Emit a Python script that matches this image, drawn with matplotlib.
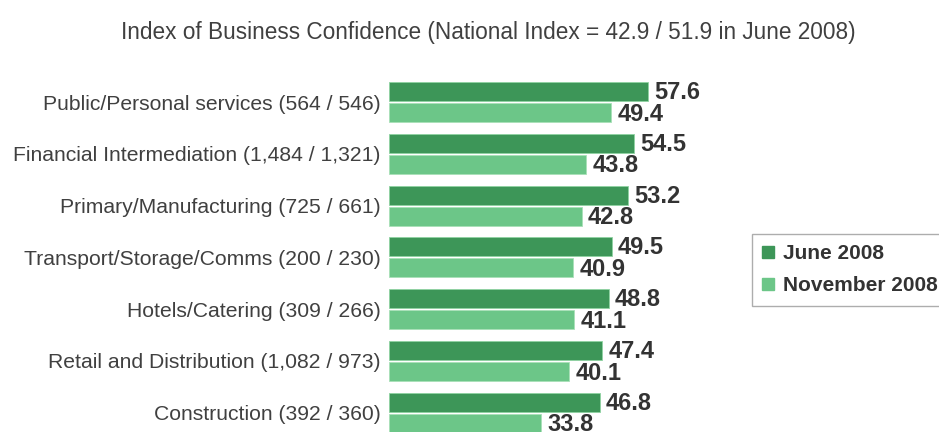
import matplotlib
matplotlib.use("Agg")
import matplotlib.pyplot as plt
from matplotlib.patches import Patch

plt.rcParams['font.family'] = ['Liberation Sans', 'DejaVu Sans']

categories = [
    "Public/Personal services (564 / 546)",
    "Financial Intermediation (1,484 / 1,321)",
    "Primary/Manufacturing (725 / 661)",
    "Transport/Storage/Comms (200 / 230)",
    "Hotels/Catering (309 / 266)",
    "Retail and Distribution (1,082 / 973)",
    "Construction (392 / 360)",
]
june_2008 = [57.6, 54.5, 53.2, 49.5, 48.8, 47.4, 46.8]
nov_2008 = [49.4, 43.8, 42.8, 40.9, 41.1, 40.1, 33.8]
series_names = ["June 2008", "November 2008"]
title = "Index of Business Confidence (National Index = 42.9 / 51.9 in June 2008)"

W, H = 939, 432
fig = plt.figure(figsize=(W / 100, H / 100), dpi=100)

# axes in pixel coordinates
ax_left, ax_right = 389, 389 + 270
ax_top, ax_bottom = 50, 432
ax = fig.add_axes([ax_left / W, 1 - ax_bottom / H, (ax_right - ax_left) / W, (ax_bottom - ax_top) / H])
pitch = 51.8
first_center = 102
ax.set_xlim(0, 60)
ax.set_ylim((ax_bottom - first_center) / pitch, -(first_center - ax_top) / pitch)

dark = "#3d9658"
light = "#6cc688"
txt = "#333333"
bh = 19 / pitch
off = 10.5 / pitch
ys = list(range(len(categories)))
ax.barh([y - off for y in ys], june_2008, height=bh, color=dark, edgecolor="#8fd3a2", linewidth=0.6)
ax.barh([y + off for y in ys], nov_2008, height=bh, color=light, edgecolor="#a8e0b8", linewidth=0.6)

for y, v in zip(ys, june_2008):
    ax.text(v + 1.4, y - off + 0.02, f"{v:.1f}", ha="left", va="center", fontsize=17,
            fontweight="bold", color=txt, clip_on=False)
for y, v in zip(ys, nov_2008):
    ax.text(v + 1.4, y + off + 0.03, f"{v:.1f}", ha="left", va="center", fontsize=17,
            fontweight="bold", color=txt, clip_on=False)

ax.set_yticks(ys)
ax.set_yticklabels(categories, fontsize=15.2, color="#404040")
ax.tick_params(axis="y", length=0, pad=6)
ax.set_xticks([])
for s in ax.spines.values():
    s.set_visible(False)

fig.text(488 / W, 1 - 32 / H, title, ha="center", va="center", fontsize=16.3, color="#404040")

handles = [Patch(facecolor=dark, edgecolor=dark), Patch(facecolor=light, edgecolor=light)]
leg = fig.legend(handles, series_names, loc="upper left",
                 bbox_to_anchor=(752 / W, 1 - 234 / H), frameon=True, fancybox=False,
                 prop={"size": 15, "weight": "bold"}, handlelength=0.55, handleheight=0.55,
                 handletextpad=0.45, labelspacing=0.62, borderpad=0.5, borderaxespad=0)
leg.get_frame().set_edgecolor("#999999")
leg.get_frame().set_linewidth(1.0)
for t in leg.get_texts():
    t.set_color(txt)

fig.savefig("out.png", dpi=100)
